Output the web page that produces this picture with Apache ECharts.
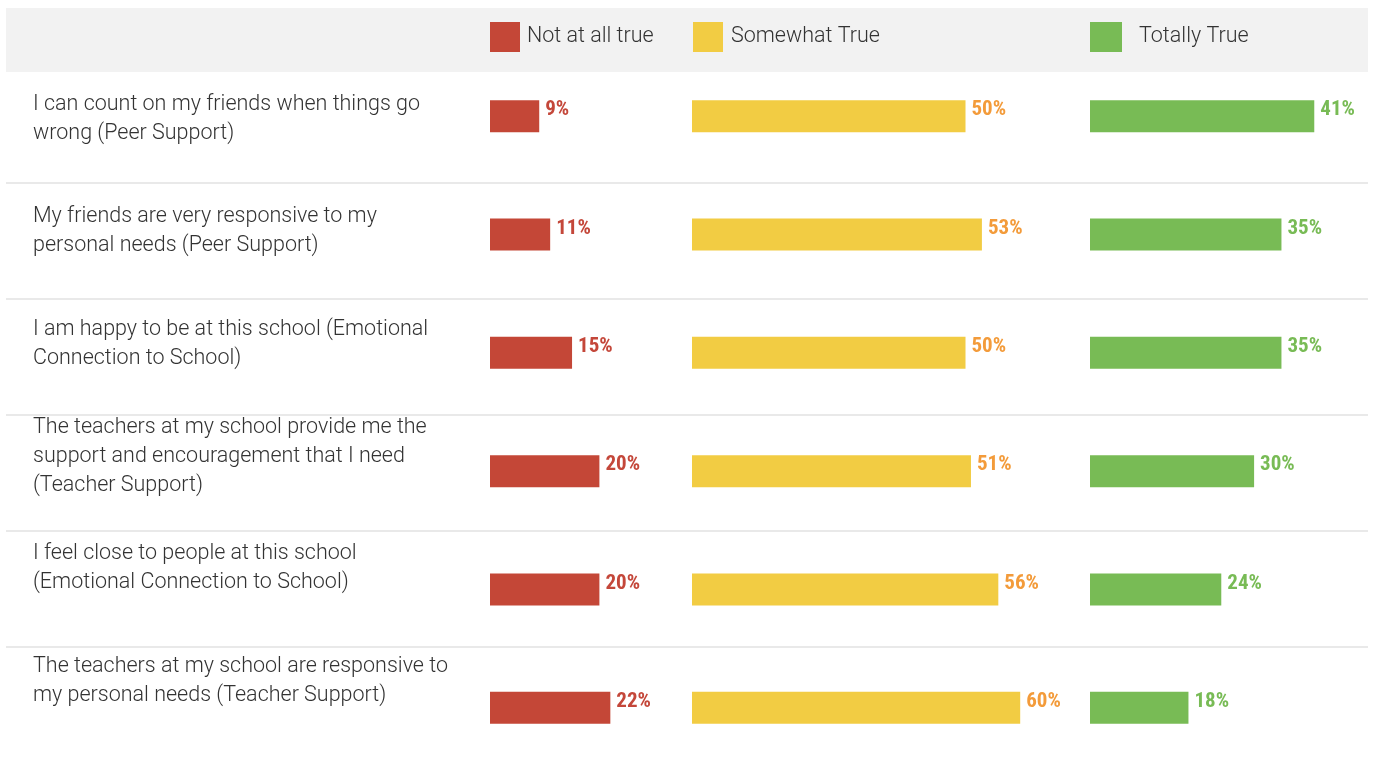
<!DOCTYPE html>
<html>
<head>
<meta charset="utf-8">
<script src="https://cdn.jsdelivr.net/npm/echarts@6/dist/echarts.min.js"></script>
<style>html,body{margin:0;padding:0;background:#fff}#c{width:1375px;height:760px}</style>
</head>
<body>
<div id="c"></div>
<script>
const categories = [
  'I can count on my friends when things go\nwrong (Peer Support)',
  'My friends are very responsive to my\npersonal needs (Peer Support)',
  'I am happy to be at this school (Emotional\nConnection to School)',
  'The teachers at my school provide me the\nsupport and encouragement that I need\n(Teacher Support)',
  'I feel close to people at this school\n(Emotional Connection to School)',
  'The teachers at my school are responsive to\nmy personal needs (Teacher Support)'
];
const seriesNames = ['Not at all true', 'Somewhat True', 'Totally True'];
const notAtAllTrue = [9, 11, 15, 20, 20, 22];
const somewhatTrue = [50, 53, 50, 51, 56, 60];
const totallyTrue = [41, 35, 35, 30, 24, 18];

const barColors = ['#c44737', '#f2cc43', '#78bb55'];
const labelColors = ['#c4473a', '#f39b3a', '#78bb55'];
const textFont = 'Roboto';
const valFont = '"Liberation Sans Narrow", "Roboto Condensed", Roboto, sans-serif';

const chart = echarts.init(document.getElementById('c'));
const barLefts = [490, 692, 1090];
const dataSets = [notAtAllTrue, somewhatTrue, totallyTrue];

const grids = [], xAxes = [], yAxes = [], series = [];
barLefts.forEach((l, i) => {
  grids.push({left: l, width: 547, top: 57, height: 710, outerBoundsMode: 'none', containLabel: false});
  xAxes.push({type: 'value', gridIndex: i, min: 0, max: 100, show: false});
  yAxes.push({type: 'category', gridIndex: i, data: categories, inverse: true, show: false});
  series.push({
    name: seriesNames[i], type: 'bar', xAxisIndex: i, yAxisIndex: i,
    data: dataSets[i], barWidth: 32,
    itemStyle: {color: barColors[i]},
    label: {show: true, position: 'right', distance: 6, offset: [0, -6],
      formatter: p => p.value + '%',
      color: labelColors[i], fontFamily: valFont, fontWeight: 'bold', fontSize: 21}
  });
});
grids.push({left: 480, width: 100, top: 63, height: 674, outerBoundsMode: 'none', containLabel: false});
xAxes.push({type: 'value', gridIndex: 3, show: false});
yAxes.push({type: 'category', gridIndex: 3, data: categories, inverse: true,
  axisLine: {show: false}, axisTick: {show: false}, splitLine: {show: false},
  axisLabel: {align: 'left', margin: 447, color: '#333333', fontFamily: textFont,
    fontWeight: 300, fontSize: 21.5, lineHeight: 29}});
grids.push({left: 6, width: 1362, top: 67, height: 696, outerBoundsMode: 'none', containLabel: false});
xAxes.push({type: 'value', gridIndex: 4, show: false});
yAxes.push({type: 'category', gridIndex: 4, data: categories, inverse: true,
  axisLine: {show: false}, axisTick: {show: false}, axisLabel: {show: false},
  splitLine: {show: true, lineStyle: {
    color: ['transparent', '#e2e2e2', '#e2e2e2', '#e2e2e2', '#e2e2e2', '#e2e2e2', 'transparent'], width: 1.5}}});

const legendText = {fontSize: 21.5, fontFamily: textFont, fontWeight: 300, color: '#333'};
chart.setOption({
  animation: false,
  backgroundColor: '#ffffff',
  graphic: [{type: 'rect', z: 10, shape: {x: 6, y: 8, width: 1362, height: 64},
    style: {fill: '#f2f2f2'}}],
  legend: [
    {data: [seriesNames[0]], left: 490, top: 22, padding: 0, z: 20, icon: 'rect', itemWidth: 30, itemHeight: 30,
      selectedMode: false, textStyle: Object.assign({padding: [0, 0, 12, 2]}, legendText)},
    {data: [seriesNames[1]], left: 693, top: 22, padding: 0, z: 20, icon: 'rect', itemWidth: 30, itemHeight: 30,
      selectedMode: false, textStyle: Object.assign({padding: [0, 0, 12, 3]}, legendText)},
    {data: [seriesNames[2]], left: 1090, top: 22, padding: 0, z: 20, icon: 'rect', itemWidth: 32, itemHeight: 30,
      selectedMode: false, textStyle: Object.assign({padding: [0, 0, 24, 12]}, legendText)}
  ],
  grid: grids, xAxis: xAxes, yAxis: yAxes, series: series
});
</script>
</body>
</html>
